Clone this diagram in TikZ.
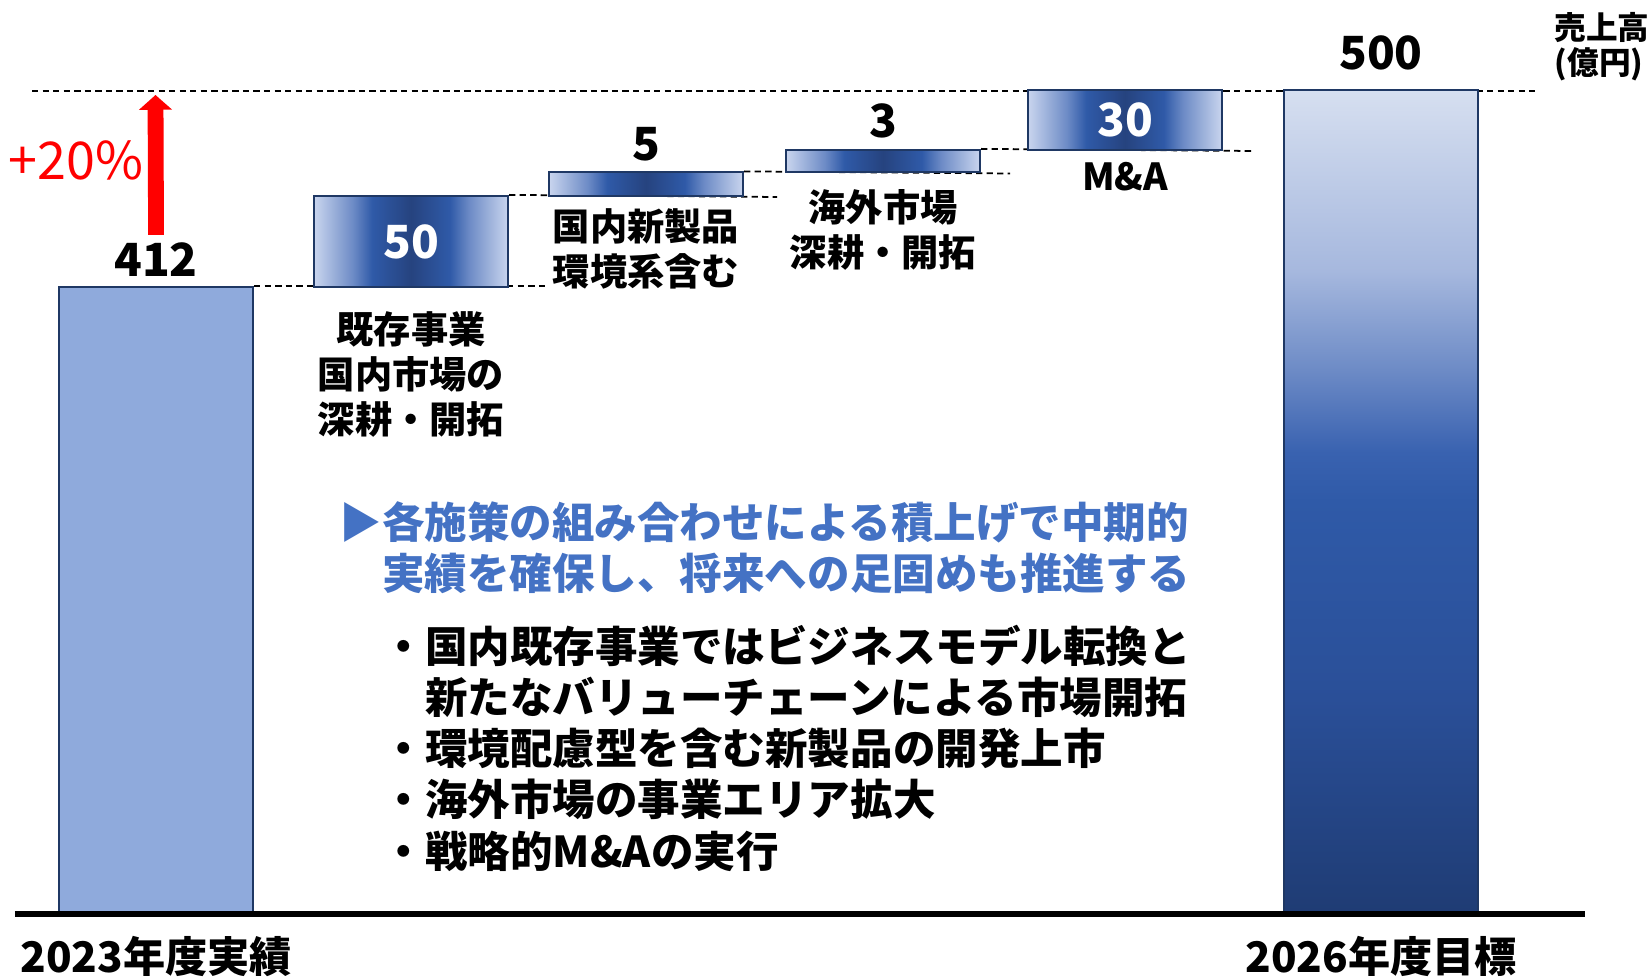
\documentclass[tikz,border=0pt]{standalone}
\usepackage{fontspec}
\setmainfont{Noto Sans CJK JP}
\usetikzlibrary{positioning, arrows.meta, backgrounds}

\definecolor{navyline}{HTML}{1F3864}
\definecolor{barlite}{HTML}{8FAADC}
\definecolor{boxlite}{HTML}{C9D5EE}
\definecolor{boxsoft}{HTML}{6D8BC6}
\definecolor{boxmid}{HTML}{2F5AA8}
\definecolor{boxdeep}{HTML}{26437F}
\definecolor{risebot}{HTML}{1F3C74}
\definecolor{risedeep}{HTML}{2A4F98}
\definecolor{risemid}{HTML}{3962B0}
\definecolor{risepale}{HTML}{A6B8DE}
\definecolor{risetop}{HTML}{D6DFF0}
\definecolor{headblue}{HTML}{4472C4}

\pgfdeclarehorizontalshading{stepshade}{100bp}{color(0bp)=(boxlite); color(25bp)=(boxlite); color(35bp)=(boxsoft); color(40bp)=(boxmid); color(50bp)=(boxdeep); color(60bp)=(boxmid); color(65bp)=(boxsoft); color(75bp)=(boxlite); color(100bp)=(boxlite)}
\pgfdeclareverticalshading{riseshade}{100bp}{color(0bp)=(risebot); color(25bp)=(risebot); color(38bp)=(risedeep); color(50bp)=(boxmid); color(53bp)=(risemid); color(58bp)=(boxsoft); color(64bp)=(risepale); color(75bp)=(risetop); color(100bp)=(risetop)}

\begin{document}
\begin{tikzpicture}[
  box/.style={draw=navyline, line width=0.6pt, minimum width=1.94cm, inner sep=0pt, anchor=south west},
  stepbox/.style={box, shade, shading=stepshade, text=white, font=\fontsize{13}{15}\selectfont\bfseries},
  guide/.style={dash pattern=on 1.8pt off 1.2pt, line width=0.5pt},
  num/.style={font=\fontsize{13}{15}\selectfont\bfseries, inner sep=2pt},
  tag/.style={font=\fontsize{10.6}{12.8}\selectfont\bfseries, align=center, inner sep=0pt},
  foot/.style={font=\fontsize{12}{14}\selectfont\bfseries, inner sep=0pt},
  rise/.style={red, line width=4.5pt, -{Triangle[length=4.2pt, width=9.2pt]}}
]

\useasboundingbox (0,0) rectangle (16.51,-9.77);

\node[box, fill=barlite, minimum height=6.26cm] (b412) at (0.58,-9.14) {};
\node[stepbox, minimum height=0.91cm] (b50) at (3.13,-2.88) {50};
\node[stepbox, minimum height=0.235cm] (b5) at (5.48,-1.97) {};
\node[stepbox, minimum height=0.22cm] (b3) at (7.85,-1.73) {};
\node[stepbox, minimum height=0.60cm] (b30) at (10.27,-1.51) {30};
\node[box, shade, shading=riseshade, minimum height=8.23cm] (b500) at (12.83,-9.14) {};

\coordinate (gl) at (0.32,-0.91);
\coordinate (gr) at (15.35,-0.91);
\coordinate (e50) at (7.77,-1.97);
\coordinate (e5) at (10.10,-1.735);
\coordinate (e3) at (12.52,-1.51);
\begin{scope}[on background layer]
\draw[guide] (gl) -- (gr);
\draw[guide] (b412.north east) -- (b412.north east -| b5.west);
\draw[guide] (b50.north east) -- (e50);
\draw[guide] (b5.north east) -- (e5);
\draw[guide] (b3.north east) -- (e3);
\end{scope}

\draw[line width=1.8pt] (0.15,-9.14) -- (15.85,-9.14);

\node[num, above=0.5pt of b412] (n412) {412};
\node[num, above=0.8pt of b5] (n5) {5};
\node[num, above=0.8pt of b3] (n3) {3};
\node[num, above=3pt of b500] (n500) {500};

\coordinate (tip) at (1.555,-0.95);
\draw[rise] (n412.north) -- (tip);
\node[red, font=\fontsize{14.8}{16}\selectfont] (p20) at (0.76,-1.60) {+20\%};

\node[tag, below=6.6pt of b50] (t50) {既存事業\\国内市場の\\深耕・開拓};
\node[tag, below=3.1pt of b5] (t5) {国内新製品\\環境系含む};
\node[tag, below=4.5pt of b3] (t3) {海外市場\\深耕・開拓};
\node[tag, below=3pt of b30] (t30) {M\&A};

\node[font=\fontsize{9}{9.8}\selectfont\bfseries, align=left, inner sep=0pt, anchor=north west] (unit) at (15.54,-0.12) {売上高\\(億円)};

\node[headblue, font=\fontsize{12.1}{14.4}\selectfont\bfseries, align=left, inner sep=0pt, anchor=north west] (msg) at (3.39,-5.01) {▶各施策の組み合わせによる積上げで中期的\\　実績を確保し、将来への足固めも推進する};

\node[font=\fontsize{12.1}{14.6}\selectfont\bfseries, align=left, inner sep=0pt, anchor=north west] (pts) at (3.82,-6.24) {・国内既存事業ではビジネスモデル転換と\\　新たなバリューチェーンによる市場開拓\\・環境配慮型を含む新製品の開発上市\\・海外市場の事業エリア拡大\\・戦略的M\&Aの実行};

\node[foot, below=6pt of b412] (y2023) {2023年度実績};
\node[foot, below=6pt of b500] (y2026) {2026年度目標};

\end{tikzpicture}
\end{document}
